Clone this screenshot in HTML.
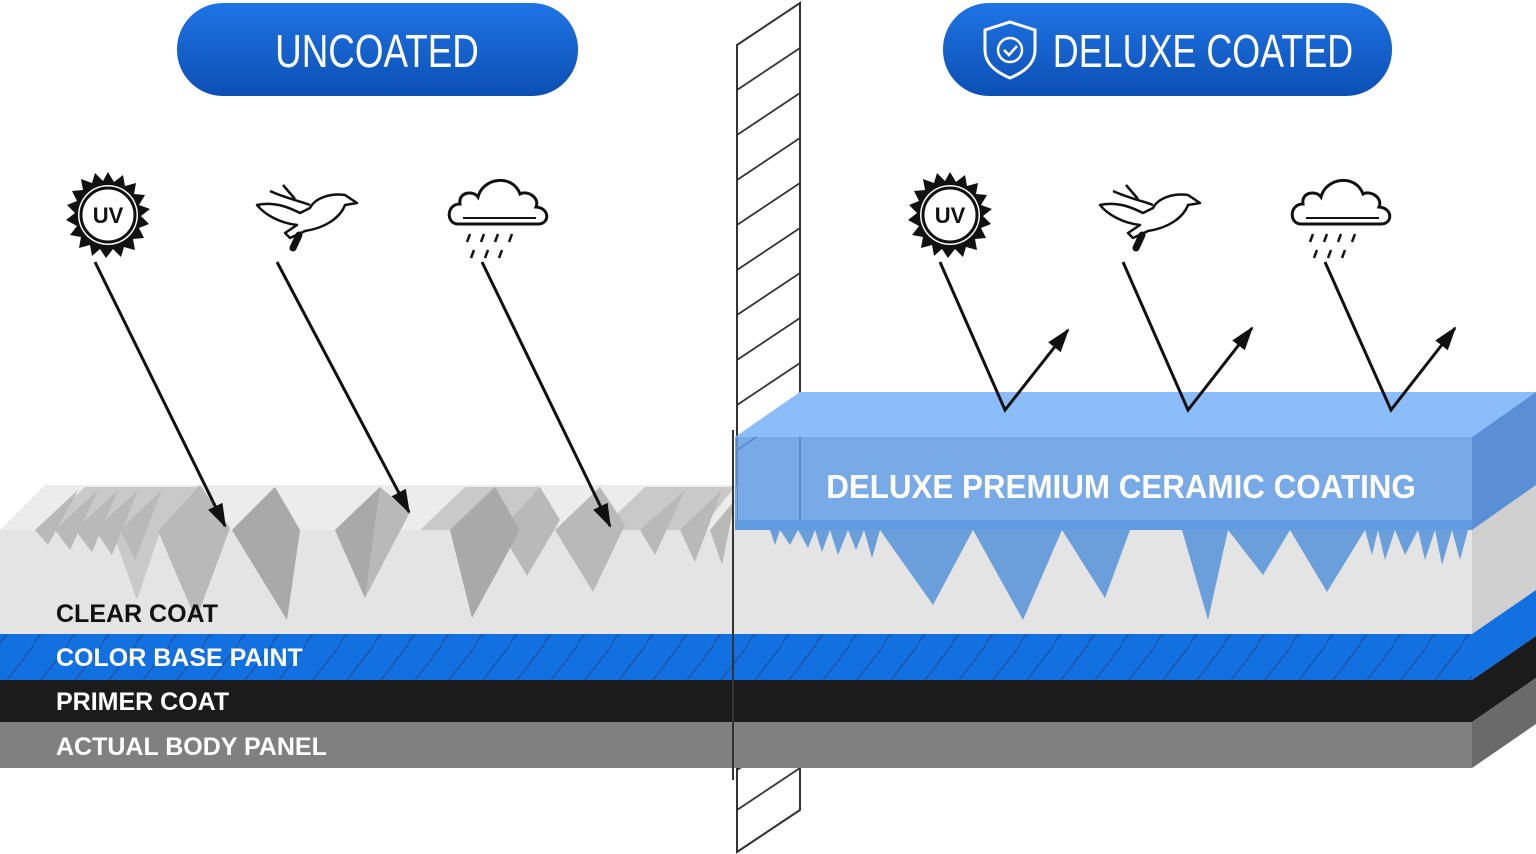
<!DOCTYPE html>
<html><head><meta charset="utf-8"><style>
html,body{margin:0;padding:0;background:#fff;}
svg{display:block;}
text{font-family:"Liberation Sans",sans-serif;}
</style></head><body>
<svg width="1536" height="854" viewBox="0 0 1536 854" xmlns="http://www.w3.org/2000/svg">
<defs>
<linearGradient id="pill" x1="0" y1="0" x2="0" y2="1"><stop offset="0" stop-color="#1f74e6"/><stop offset="1" stop-color="#0c4fb4"/></linearGradient>
<pattern id="hatch" width="34" height="46" patternUnits="userSpaceOnUse"><path d="M-10 58 L44 -12" stroke="#1e4f9a" stroke-width="1.5" fill="none"/></pattern>
<g id="sun">
<polygon fill="#111" points="0,-43 6,-33 15,-40 17,-29 28,-32 26,-21 37,-20 31,-10 42,-6 33,1 41,9 31,13 36,23 25,24 27,35 16,32 13,42 5,34 -2,43 -8,34 -16,41 -18,30 -29,33 -27,22 -38,20 -31,11 -42,5 -33,-2 -41,-10 -31,-14 -36,-24 -25,-25 -27,-36 -16,-32 -13,-42 -5,-34"/>
<circle r="30" fill="#fff"/><circle r="27" fill="none" stroke="#111" stroke-width="3"/>
<text x="0" y="8" text-anchor="middle" font-size="22" font-weight="bold" fill="#111">UV</text>
</g>
<g id="bird" fill="none" stroke="#111" stroke-width="2.5" stroke-linejoin="round">
<path d="M-48,-8 C-30,-12 -15,-5 -5,0 L5,-5 C10,-15 25,-20 40,-18 L52,-10 L40,-8 C35,5 20,15 0,18 L-15,25 L-20,20 L-8,12 C-25,10 -40,2 -48,-8Z"/>
<path d="M-35,-22 C-20,-15 -5,-12 5,-8"/>
<path d="M-22,-28 L-10,-14"/>
<path d="M-12,35 L-6,22" stroke-width="7" stroke-linecap="round"/>
</g>
<g id="cloud">
<path d="M-40,12 C-52,12 -52,-8 -38,-8 C-40,-20 -25,-22 -20,-15 C-15,-35 15,-38 22,-18 C30,-22 42,-14 38,-5 C52,-4 52,12 40,12 Z" fill="none" stroke="#111" stroke-width="3"/>
<path d="M-35,6 L38,6" stroke="#111" stroke-width="2"/>
<g stroke="#111" stroke-width="2.5"><path d="M-28,22 l-3,8 M-14,22 l-3,8 M0,22 l-3,8 M14,22 l-3,8 M-24,38 l-3,8 M-10,38 l-3,8 M4,38 l-3,8"/></g>
</g>
<marker id="ah" markerWidth="24" markerHeight="16" refX="22" refY="8" orient="auto" markerUnits="userSpaceOnUse" viewBox="0 0 24 16"><path d="M0,0 L24,8 L0,16 Z" fill="#111"/></marker>
</defs>

<!-- pills -->
<rect x="177" y="3" width="401" height="93" rx="46" fill="url(#pill)"/>
<text x="377" y="67" text-anchor="middle" font-size="46" fill="#fff" transform="translate(377 0) scale(0.8 1) translate(-377 0)">UNCOATED</text>
<rect x="943" y="3" width="449" height="93" rx="46" fill="url(#pill)"/>
<path d="M1010,22 L1035,30 L1035,50 C1035,65 1022,73 1010,78 C998,73 985,65 985,50 L985,30 Z" fill="none" stroke="#fff" stroke-width="3"/>
<circle cx="1010" cy="50" r="12" fill="none" stroke="#fff" stroke-width="2.5"/>
<path d="M1004,50 l5,5 l8,-9" fill="none" stroke="#fff" stroke-width="2.5"/>
<text x="1203" y="67" text-anchor="middle" font-size="46" fill="#fff" transform="translate(1203 0) scale(0.78 1) translate(-1203 0)">DELUXE COATED</text>

<!-- partition (back) -->
<polygon points="737,45 800,3 800,810 737,852" fill="#fff" stroke="#333" stroke-width="2"/>
<g stroke="#333" stroke-width="1.8">
<path d="M737,90 L800,48 M737,135 L800,93 M737,180 L800,138 M737,225 L800,183 M737,270 L800,228 M737,315 L800,273 M737,360 L800,318 M737,405 L800,363 M737,450 L800,408 M737,810 L800,768 M737,852 L800,810 M737,770 L800,728"/>
</g>

<!-- left top face -->
<polygon points="0,530 45,485 737,485 737,530" fill="#ececec"/>
<!-- layers -->
<rect x="0" y="530" width="1472" height="104" fill="#e4e4e4"/>
<rect x="0" y="634" width="1472" height="46" fill="#1370e0"/>
<rect x="0" y="634" width="1472" height="46" fill="url(#hatch)" opacity="0.8"/>
<rect x="0" y="680" width="1472" height="42" fill="#1b1b1b"/>
<rect x="0" y="722" width="1472" height="46" fill="#808080"/>
<!-- right side faces -->
<polygon points="1472,530 1536,485 1536,590 1472,634" fill="#cfcfcf"/>
<polygon points="1472,634 1536,590 1536,636 1472,680" fill="#1370e0"/>
<polygon points="1472,680 1536,636 1536,678 1472,722" fill="#1b1b1b"/>
<polygon points="1472,722 1536,678 1536,724 1472,768" fill="#6a6a6a"/>

<!-- left spikes -->
<g fill="#c9c9c9">
<polygon points="40,530 85,487 200,487 160,530"/>
<polygon points="112,530 150,487 175,487 137,600"/>
<polygon points="420,530 465,487 540,487 500,530"/>
<polygon points="600,530 645,487 735,487 700,530"/>
</g>
<g fill="#b9b9b9">
<polygon points="35,530 78,490 48,545"/><polygon points="55,530 98,490 70,550"/><polygon points="75,530 118,490 92,552"/><polygon points="95,530 138,490 112,555"/><polygon points="120,530 162,490 135,560"/>
<polygon points="158,531 200,485 230,528 196,620"/>
<polygon points="232,530 275,487 287,620"/>
<polygon points="335,530 380,487 410,512 365,598"/>
<polygon points="450,530 495,487 472,618"/>
<polygon points="500,530 540,487 560,520 527,576"/>
<polygon points="555,530 600,487 625,525 593,592"/>
<polygon points="640,530 685,490 655,555"/><polygon points="680,530 722,490 695,562"/><polygon points="710,530 735,500 722,565"/>
</g>
<g fill="#a9a9a9">
<polygon points="232,530 275,487 300,530 287,620"/>
<polygon points="335,530 380,487 365,598"/>
<polygon points="450,530 495,487 520,530 472,618"/>
</g>

<!-- right spikes (blue) -->
<polygon fill="#6a9fdc" points="735,530 770,530 775,545 780,530 790,545 798,530 808,548 815,530 822,552 830,530 838,555 848,530 856,550 864,530 872,558 880,530 933,605 973,530 1023,620 1062,530 1105,598 1130,530 1182,530 1208,620 1228,530 1263,575 1290,530 1327,592 1365,530 1372,555 1378,530 1385,560 1395,530 1405,555 1418,530 1425,560 1435,530 1442,565 1452,530 1460,560 1468,530 1472,530 1472,520 735,520"/>

<!-- ceramic coating block -->
<polygon points="735,437 800,392 1536,392 1472,437" fill="#8bbdfa"/>
<rect x="735" y="437" width="737" height="93" fill="#5f9be3" opacity="0.85"/>
<polygon points="1472,437 1536,392 1536,485 1472,530" fill="#5a8fd6"/>
<text x="1121" y="498" text-anchor="middle" font-size="33" font-weight="bold" fill="#fff" transform="translate(1121 0) scale(0.95 1) translate(-1121 0)">DELUXE PREMIUM CERAMIC COATING</text>
<path d="M733,430 L733,780" stroke="#333" stroke-width="2"/>

<!-- layer labels -->
<g font-size="25" font-weight="bold">
<text x="56" y="622" fill="#111">CLEAR COAT</text>
<text x="56" y="666" fill="#fff">COLOR BASE PAINT</text>
<text x="56" y="710" fill="#fff">PRIMER COAT</text>
<text x="56" y="755" fill="#fff">ACTUAL BODY PANEL</text>
</g>

<!-- icons -->
<use href="#sun" x="108" y="215"/><use href="#bird" x="305" y="213"/><use href="#cloud" x="498" y="212"/>
<use href="#sun" x="950" y="215"/><use href="#bird" x="1148" y="213"/><use href="#cloud" x="1341" y="212"/>

<!-- arrows -->
<g stroke="#111" stroke-width="3" fill="none">
<path d="M95,262 L225,526" marker-end="url(#ah)"/>
<path d="M277,262 L409,512" marker-end="url(#ah)"/>
<path d="M482,262 L610,526" marker-end="url(#ah)"/>
<path d="M940,262 L1005,410 L1068,330" marker-end="url(#ah)"/>
<path d="M1123,262 L1188,410 L1252,328" marker-end="url(#ah)"/>
<path d="M1325,262 L1391,410 L1455,328" marker-end="url(#ah)"/>
</g>
</svg>
</body></html>
